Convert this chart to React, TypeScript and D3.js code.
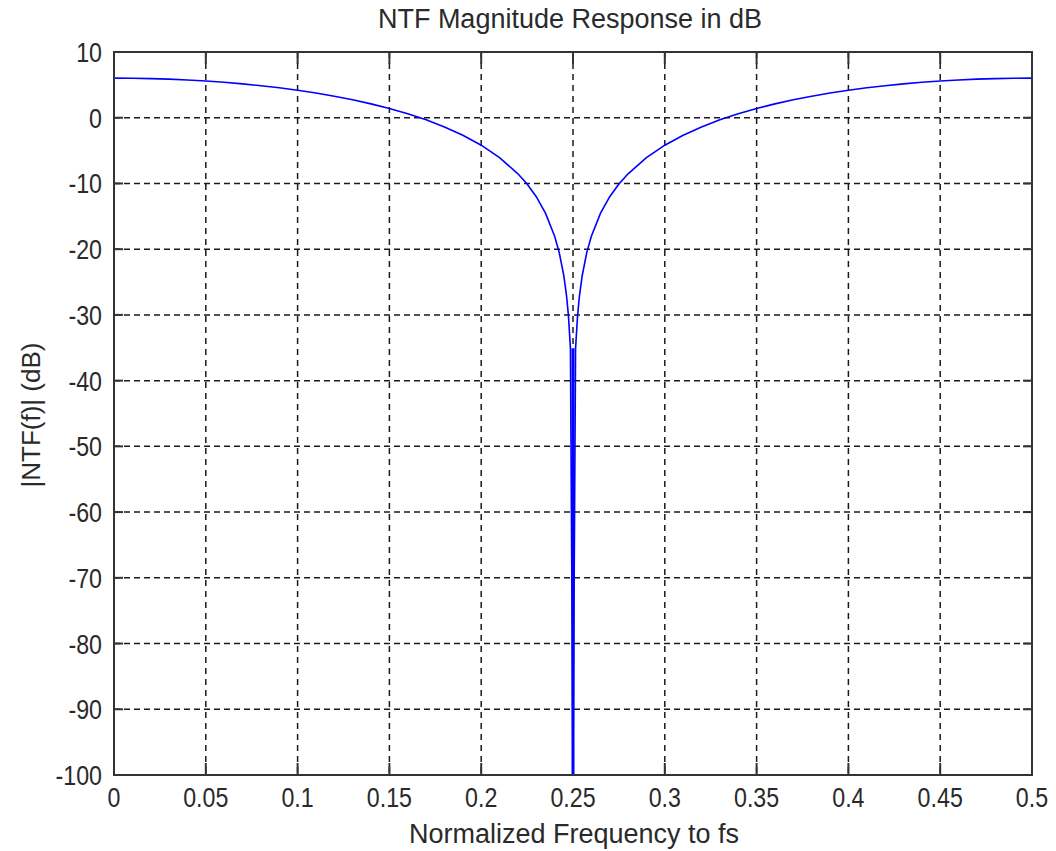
import React from "react";
import * as d3 from "d3";

// normalized frequency samples (f / fs) and |NTF(f)| in dB
const freq = [
  0, 0.01, 0.02, 0.03, 0.04, 0.05, 0.06, 0.07, 0.08, 0.09, 0.1, 0.11, 0.12,
  0.13, 0.14, 0.15, 0.16, 0.17, 0.18, 0.19, 0.2, 0.21, 0.22, 0.225, 0.23,
  0.235, 0.24, 0.2425, 0.245, 0.2465, 0.2475, 0.2486, 0.25, 0.2514, 0.2525,
  0.2535, 0.255, 0.2575, 0.26, 0.265, 0.27, 0.275, 0.28, 0.29, 0.3, 0.31,
  0.32, 0.33, 0.34, 0.35, 0.36, 0.37, 0.38, 0.39, 0.4, 0.41, 0.42, 0.43,
  0.44, 0.45, 0.46, 0.47, 0.48, 0.49, 0.5,
];
const magDb = [
  6.02, 6.0, 5.95, 5.87, 5.74, 5.58, 5.39, 5.15, 4.87, 4.55, 4.18, 3.76, 3.27,
  2.73, 2.11, 1.4, 0.6, -0.32, -1.4, -2.66, -4.18, -6.07, -8.53, -10.09,
  -12.02, -14.51, -18.02, -20.52, -24.04, -27.13, -30.06, -35.09, -100,
  -35.09, -30.06, -27.13, -24.04, -20.52, -18.02, -14.51, -12.02, -10.09,
  -8.53, -6.07, -4.18, -2.66, -1.4, -0.32, 0.6, 1.4, 2.11, 2.73, 3.27, 3.76,
  4.18, 4.55, 4.87, 5.15, 5.39, 5.58, 5.74, 5.87, 5.95, 6.0, 6.02,
];

const xTicks = [0, 0.05, 0.1, 0.15, 0.2, 0.25, 0.3, 0.35, 0.4, 0.45, 0.5];
const xTickLabels = ["0", "0.05", "0.1", "0.15", "0.2", "0.25", "0.3", "0.35", "0.4", "0.45", "0.5"];
const yTicks = [10, 0, -10, -20, -30, -40, -50, -60, -70, -80, -90, -100];

const titleText = "NTF Magnitude Response in dB";
const xLabel = "Normalized Frequency to fs";
const yLabel = "|NTF(f)| (dB)";

export default function App() {
  const width = 1056;
  const height = 851;
  const left = 114; // plot box, in pixels
  const right = 1032;
  const top = 52;
  const bottom = 775;

  const x = d3.scaleLinear().domain([0, 0.5]).range([left, right]);
  const y = d3.scaleLinear().domain([-100, 10]).range([bottom, top]);

  const line = d3
    .line<number>()
    .x((d, i) => x(freq[i]))
    .y((d) => y(d));

  const font = "'Liberation Sans', Arial, Helvetica, sans-serif";
  const gridColor = "#1a1a1a";
  const axisColor = "#333";
  const textColor = "#2a2a2a";
  const narrow = 0.86; // tick digits are narrower than Liberation Sans

  return (
    <svg
      width={width}
      height={height}
      style={{ position: "absolute", left: 0, top: 0, background: "#fff" }}
      fontFamily={font}
    >
      <defs>
        <clipPath id="plotClip">
          <rect x={left} y={top} width={right - left} height={bottom - top} />
        </clipPath>
      </defs>

      {/* dashed grid */}
      {xTicks.slice(1, -1).map((t) => (
        <line key={"gx" + t} x1={x(t)} x2={x(t)} y1={top} y2={bottom}
          stroke={gridColor} strokeWidth={1.5} strokeDasharray="6,5" />
      ))}
      {yTicks.slice(1, -1).map((t) => (
        <line key={"gy" + t} x1={left} x2={right} y1={y(t)} y2={y(t)}
          stroke={gridColor} strokeWidth={1.5} strokeDasharray="6,4" />
      ))}

      {/* inside tick marks on all four sides */}
      {xTicks.map((t) => (
        <g key={"tx" + t}>
          <line x1={x(t)} x2={x(t)} y1={bottom} y2={bottom - 12} stroke={axisColor} strokeWidth={2} />
          <line x1={x(t)} x2={x(t)} y1={top} y2={top + 12} stroke={axisColor} strokeWidth={2} />
        </g>
      ))}
      {yTicks.map((t) => (
        <g key={"ty" + t}>
          <line x1={left} x2={left + 9} y1={y(t)} y2={y(t)} stroke={axisColor} strokeWidth={2} />
          <line x1={right} x2={right - 9} y1={y(t)} y2={y(t)} stroke={axisColor} strokeWidth={2} />
        </g>
      ))}

      {/* response curve */}
      <path
        d={line(magDb) || ""}
        fill="none"
        stroke="#0000ff"
        strokeWidth={1.6}
        clipPath="url(#plotClip)"
      />
      <line x1={x(0.25)} x2={x(0.25)} y1={y(-35.09)} y2={bottom}
        stroke="#0000ff" strokeWidth={3} />

      {/* box */}
      <rect x={left} y={top} width={right - left} height={bottom - top}
        fill="none" stroke={axisColor} strokeWidth={2} />

      {/* tick labels */}
      {xTicks.map((t, i) => (
        <text key={"lx" + t} transform={`translate(${x(t)},807) scale(${narrow},1)`}
          textAnchor="middle" fontSize={27} fill={textColor}>
          {xTickLabels[i]}
        </text>
      ))}
      {yTicks.map((t) => (
        <text key={"ly" + t} transform={`translate(102,${y(t) + 10}) scale(${narrow},1)`}
          textAnchor="end" fontSize={27} fill={textColor}>
          {t}
        </text>
      ))}

      <text x={570} y={28} textAnchor="middle" fontSize={27} fill={textColor}>
        {titleText}
      </text>
      <text x={574} y={843} textAnchor="middle" fontSize={27} fill={textColor}>
        {xLabel}
      </text>
      <text
        transform={`translate(40, 415) rotate(-90)`}
        textAnchor="middle"
        fontSize={26}
        fill={textColor}
      >
        {yLabel}
      </text>
    </svg>
  );
}
